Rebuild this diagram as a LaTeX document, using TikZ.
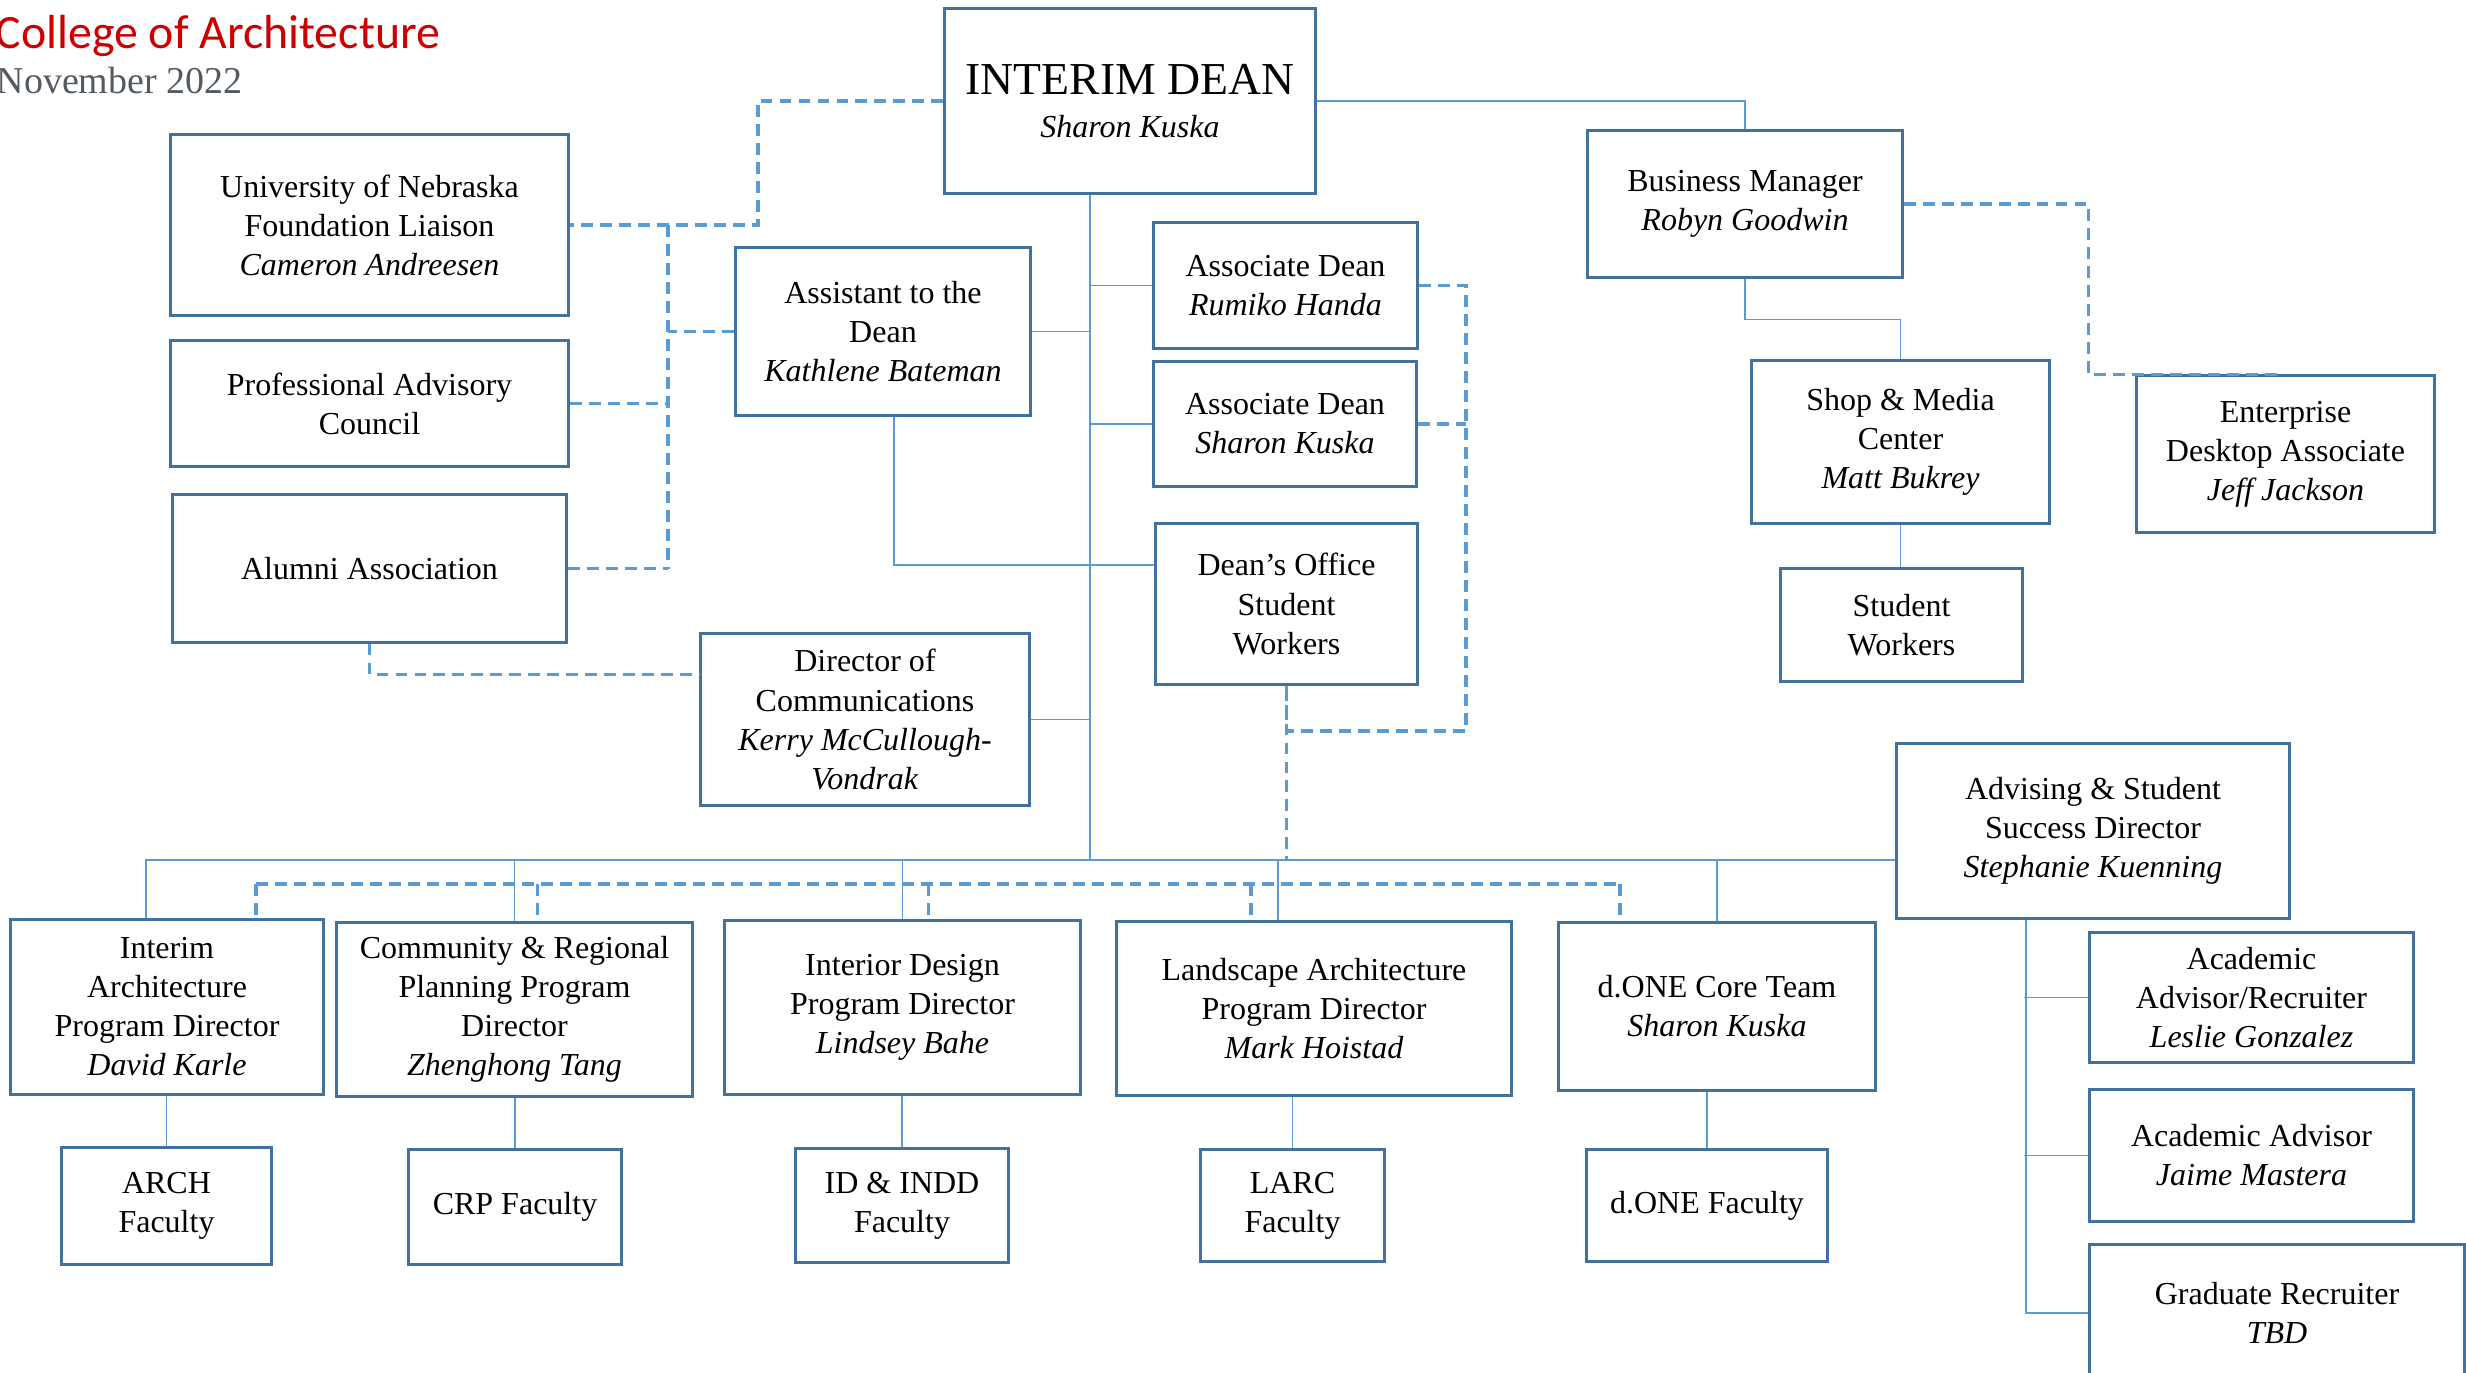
\documentclass[tikz,border=0pt]{standalone}
\usepackage{fontspec}
\setmainfont{Liberation Serif}
\newfontfamily\titlefont{Carlito}
\usetikzlibrary{calc}
\definecolor{boxblue}{HTML}{41719C}
\definecolor{linkblue}{HTML}{5B9BD5}
\definecolor{titlered}{HTML}{CC0000}
\definecolor{dategrey}{HTML}{545A62}

\begin{document}
\begin{tikzpicture}[x=0.01cm, y=-0.01cm,
  box/.style={draw=boxblue, line width=0.85pt, fill=white, align=center, inner sep=0pt,
    font=\fontsize{9.1}{11.1}\selectfont},
  link/.style={draw=linkblue, line width=0.5pt},
  dotlink/.style={draw=linkblue, line width=0.9pt, dash pattern=on 3.4pt off 2pt}]
\useasboundingbox (0,0) rectangle (2466,1373);
\clip (0,0) rectangle (2466,1373);
\fill[white] (0,0) rectangle (2466,1373);

\node[anchor=base west, inner sep=0pt, text=titlered, font=\titlefont\fontsize{13.6}{16}\selectfont] (title) at (-5,49) {College of Architecture};
\node[anchor=base west, inner sep=0pt, text=dategrey, font=\fontsize{10.8}{13}\selectfont] (date) at (-4,94) {November 2022};

% top of the chart
\node[box, minimum width=3.70cm, minimum height=1.84cm] (dean) at (1130,101) {{\fontsize{13}{15}\selectfont INTERIM DEAN}\\[1pt]\textit{Sharon Kuska}};
\node[box, minimum width=3.97cm, minimum height=1.80cm] (liaison) at (369.5,225) {University of Nebraska\\Foundation Liaison\\\textit{Cameron Andreesen}};
\node[box, minimum width=3.97cm, minimum height=1.25cm] (pac) at (369.5,403.5) {Professional Advisory\\Council};
\node[box, minimum width=3.93cm, minimum height=1.47cm] (alumni) at (369.5,568.5) {Alumni Association};
\node[box, minimum width=2.94cm, minimum height=1.67cm] (assistant) at (883,331.5) {Assistant to the\\Dean\\\textit{Kathlene Bateman}};
\node[box, minimum width=3.28cm, minimum height=1.71cm] (comms) at (865,719.5) {Director of\\Communications\\\textit{Kerry McCullough-}\\\textit{Vondrak}};
\node[box, minimum width=2.63cm, minimum height=1.25cm] (assoca) at (1285.5,285.5) {Associate Dean\\\textit{Rumiko Handa}};
\node[box, minimum width=2.62cm, minimum height=1.24cm] (assocb) at (1285,424) {Associate Dean\\\textit{Sharon Kuska}};
\node[box, minimum width=2.61cm, minimum height=1.60cm] (office) at (1286.5,604) {Dean’s Office\\Student\\Workers};

% business side
\node[box, minimum width=3.14cm, minimum height=1.46cm] (business) at (1745,204) {Business Manager\\\textit{Robyn Goodwin}};
\node[box, minimum width=2.97cm, minimum height=1.62cm] (shop) at (1900.5,442) {Shop \& Media\\Center\\\textit{Matt Bukrey}};
\node[box, minimum width=2.41cm, minimum height=1.12cm] (shopwork) at (1901.5,625) {Student\\Workers};
\node[box, minimum width=2.97cm, minimum height=1.56cm] (enterprise) at (2285.5,454) {Enterprise\\Desktop Associate\\\textit{Jeff Jackson}};

% advising
\node[box, minimum width=3.92cm, minimum height=1.74cm] (advising) at (2093,831) {Advising \& Student\\Success Director\\\textit{Stephanie Kuenning}};
\node[box, minimum width=3.23cm, minimum height=1.29cm] (recruiter) at (2251.5,997.5) {Academic\\Advisor/Recruiter\\\textit{Leslie Gonzalez}};
\node[box, minimum width=3.23cm, minimum height=1.31cm] (advisor) at (2251.5,1155.5) {Academic Advisor\\\textit{Jaime Mastera}};
\node[box, minimum width=3.74cm, minimum height=1.36cm] (graduate) at (2277,1313) {Graduate Recruiter\\\textit{TBD}};

% programs
\node[box, minimum width=3.12cm, minimum height=1.74cm] (interim) at (167,1007) {Interim\\Architecture\\Program Director\\\textit{David Karle}};
\node[box, minimum width=3.55cm, minimum height=1.73cm] (crp) at (514.5,1009.5) {Community \& Regional\\Planning Program\\Director\\\textit{Zhenghong Tang}};
\node[box, minimum width=3.55cm, minimum height=1.73cm] (interior) at (902.5,1007.5) {Interior Design\\Program Director\\\textit{Lindsey Bahe}};
\node[box, minimum width=3.94cm, minimum height=1.73cm] (landscape) at (1314,1008.5) {Landscape Architecture\\Program Director\\\textit{Mark Hoistad}};
\node[box, minimum width=3.16cm, minimum height=1.67cm] (done) at (1717,1006.5) {d.ONE Core Team\\\textit{Sharon Kuska}};
\node[box, minimum width=2.09cm, minimum height=1.16cm] (archfac) at (166.5,1206) {ARCH\\Faculty};
\node[box, minimum width=2.12cm, minimum height=1.14cm] (crpfac) at (515,1207) {CRP Faculty};
\node[box, minimum width=2.12cm, minimum height=1.13cm] (idfac) at (902,1205.5) {ID \& INDD\\Faculty};
\node[box, minimum width=1.83cm, minimum height=1.11cm] (larcfac) at (1292.5,1205.5) {LARC\\Faculty};
\node[box, minimum width=2.40cm, minimum height=1.11cm] (donefac) at (1707,1205.5) {d.ONE Faculty};

% solid lines
\coordinate (spine) at (1090,860);
\draw[link] (dean.south -| spine) -- (spine);
\foreach \n in {assoca, assocb}
  \draw[link] (\n.west) -- (\n.west -| spine);
\foreach \n in {assistant, comms}
  \draw[link] (\n.east) -- (\n.east -| spine);
\draw[link] ($(assistant.south)+(11,0)$) |- ($(office.west)+(0,-39)$);
\draw[link] ($(interim.north)+(-21,0)$) |- (advising.west |- spine);
\foreach \n/\dx in {interim/-21, crp/0, interior/0, landscape/-36, done/0} {
  \coordinate (drop) at ($(\n.north)+(\dx,0)$);
  \draw[link] (drop |- spine) -- (drop);
}
\foreach \a/\b in {interim/archfac, crp/crpfac, interior/idfac, landscape/larcfac, done/donefac}
  \draw[link] (\a.south -| \b.north) -- (\b.north);
\draw[link] (dean.east) -| (business.north);
\draw[link] (business.south) -- ++(0,41) -| (shop.north);
\draw[link] (shop.south) -- (shop.south |- shopwork.north);
\draw[link] ($(advising.south)+(-67,0)$) |- (graduate.west);
\foreach \n in {recruiter, advisor}
  \draw[link] (\n.west) -- ++(-64,0);

% dashed lines
\coordinate (lspine) at (668,225);
\draw[dotlink] (dean.west) -| (758,225) -- (liaison.east);
\draw[dotlink] (lspine) -- (lspine |- alumni.east);
\foreach \n in {pac, alumni}
  \draw[dotlink] (\n.east) -- (\n.east -| lspine);
\draw[dotlink] (assistant.west) -- (assistant.west -| lspine);
\draw[dotlink] (alumni.south) |- ($(comms.west)+(0,-45)$);
\coordinate (rspine) at (1466,731);
\draw[dotlink] (assoca.east) -| (rspine) -| (office.south);
\draw[dotlink] (assocb.east) -- (assocb.east -| rspine);
\draw[dotlink] (office.south) -- (office.south |- spine);
\coordinate (dbus) at (0,884);
\draw[dotlink] (256,884) -- (1620,884);
\foreach \n/\dx in {interim/89, crp/23, interior/26, landscape/-63, done/-97} {
  \coordinate (drop) at ($(\n.north)+(\dx,0)$);
  \draw[dotlink] (drop |- dbus) -- (drop);
}
\draw[dotlink] (business.east) -| ($(enterprise.north west)+(-47,0)$) -- ($(enterprise.north)+(-8,0)$);

\end{tikzpicture}
\end{document}
